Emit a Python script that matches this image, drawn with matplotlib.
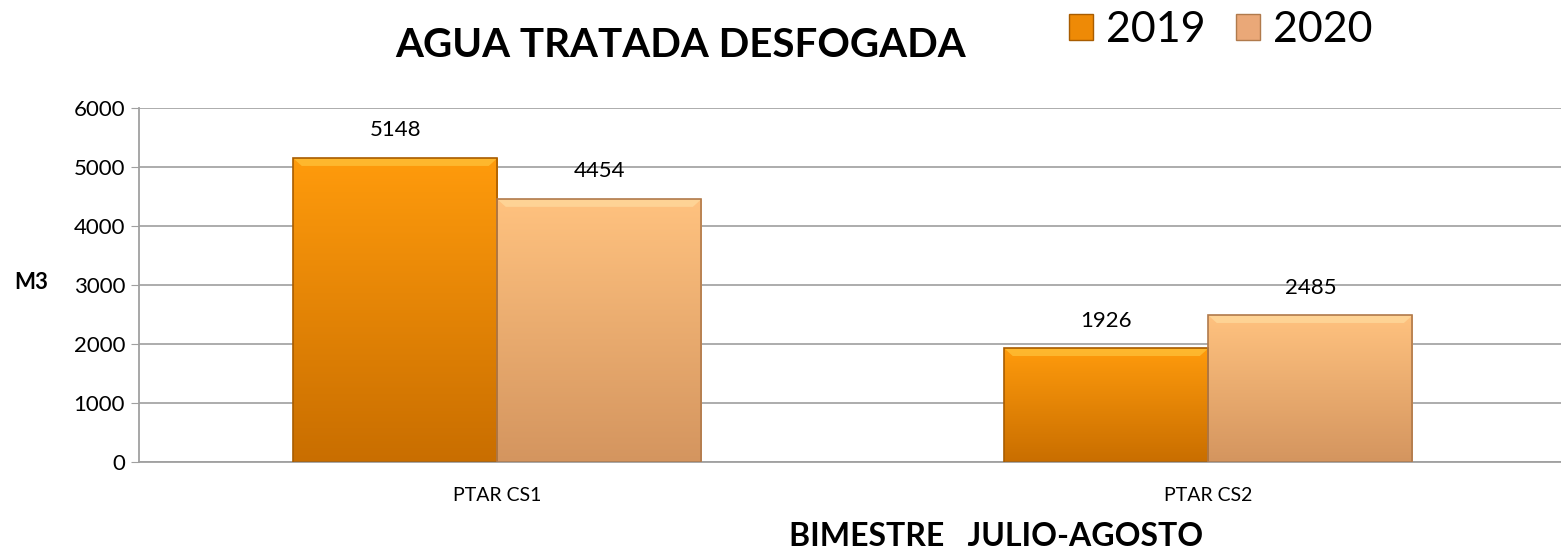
import numpy as np
import matplotlib
matplotlib.use('Agg')
from matplotlib import pyplot as plt
from matplotlib.colors import LinearSegmentedColormap
from matplotlib.patches import Patch

plt.rcParams['font.family'] = ['Lato', 'DejaVu Sans']

categories = ['PTAR CS1', 'PTAR CS2']
years = ['2019', '2020']
values_2019 = [5148, 1926]
values_2020 = [4454, 2485]
y_ticks = [0, 1000, 2000, 3000, 4000, 5000, 6000]

# gradient colours (bottom, top), bevel highlight and edge for each series
grad_2019 = ('#c96e00', '#ff9b0c')
grad_2020 = ('#d4955f', '#ffc27f')
hi_2019 = '#ffd04a'
hi_2020 = '#ffe3a8'
edge_2019 = '#a85c00'
edge_2020 = '#b07a4c'

fig = plt.figure(figsize=(15.61, 5.53), dpi=100)
ax = fig.add_axes([0.089, 0.1646, 0.911, 0.6401])

x = np.arange(len(categories))
width = 0.287
series = [(values_2019, -width / 2, grad_2019, hi_2019, edge_2019),
          (values_2020, width / 2, grad_2020, hi_2020, edge_2020)]

grad = np.linspace(0, 1, 256).reshape(-1, 1)
for vals, off, cols, hi, edge in series:
    cmap = LinearSegmentedColormap.from_list('g', list(cols))
    bars = ax.bar(x + off, vals, width, facecolor='none', edgecolor=edge,
                  linewidth=1.2, zorder=3)
    for bar, v in zip(bars, vals):
        x0 = bar.get_x()
        im = ax.imshow(grad, extent=[x0, x0 + width, 0, v], origin='lower',
                       aspect='auto', cmap=cmap, zorder=2)
        im.set_clip_path(bar)
        # bevel strip along the top
        ax.fill([x0, x0 + width, x0 + width - 0.012, x0 + 0.012],
                [v, v, v - 130, v - 130], color=hi, alpha=0.55,
                lw=0, zorder=2.5)
        ax.annotate(str(v), (x0 + width / 2, v), xytext=(0, 20),
                    textcoords='offset points', ha='center', va='center',
                    fontsize=16)

ax.set_xlim(-0.504, 1.496)
ax.set_ylim(0, 6000)
ax.set_yticks(y_ticks)
ax.set_xticks(x)
ax.set_xticklabels(categories, fontsize=14)
ax.tick_params(axis='x', length=0, pad=18)
ax.tick_params(axis='y', labelsize=16, length=6, color='#a0a0a0', pad=4)
ax.grid(axis='y', color='#a6a6a6', linewidth=1.3, zorder=0)
ax.set_axisbelow(True)
for s in ['top', 'right']:
    ax.spines[s].set_visible(False)
for s in ['left', 'bottom']:
    ax.spines[s].set_color('#a0a0a0')
    ax.spines[s].set_linewidth(1.3)

fig.text(0.009, 0.49, 'M3', fontsize=16, fontweight='bold',
         ha='left', va='center')
fig.text(0.638, 0.03, 'BIMESTRE   JULIO-AGOSTO', fontsize=23,
         fontweight='bold', ha='center', va='center')
fig.text(0.436, 0.918, 'AGUA TRATADA DESFOGADA', fontsize=29,
         fontweight='bold', ha='center', va='center')

handles = [Patch(facecolor='#ee8a06', edgecolor=edge_2019),
           Patch(facecolor='#eaa878', edgecolor=edge_2020)]
fig.legend(handles, years, loc='center left', bbox_to_anchor=(0.674, 0.945),
           frameon=False, ncol=2, fontsize=31, handlelength=0.56,
           handleheight=0.56, handletextpad=0.3, columnspacing=0.7,
           borderaxespad=0)

fig.savefig('out.png', dpi=100)
